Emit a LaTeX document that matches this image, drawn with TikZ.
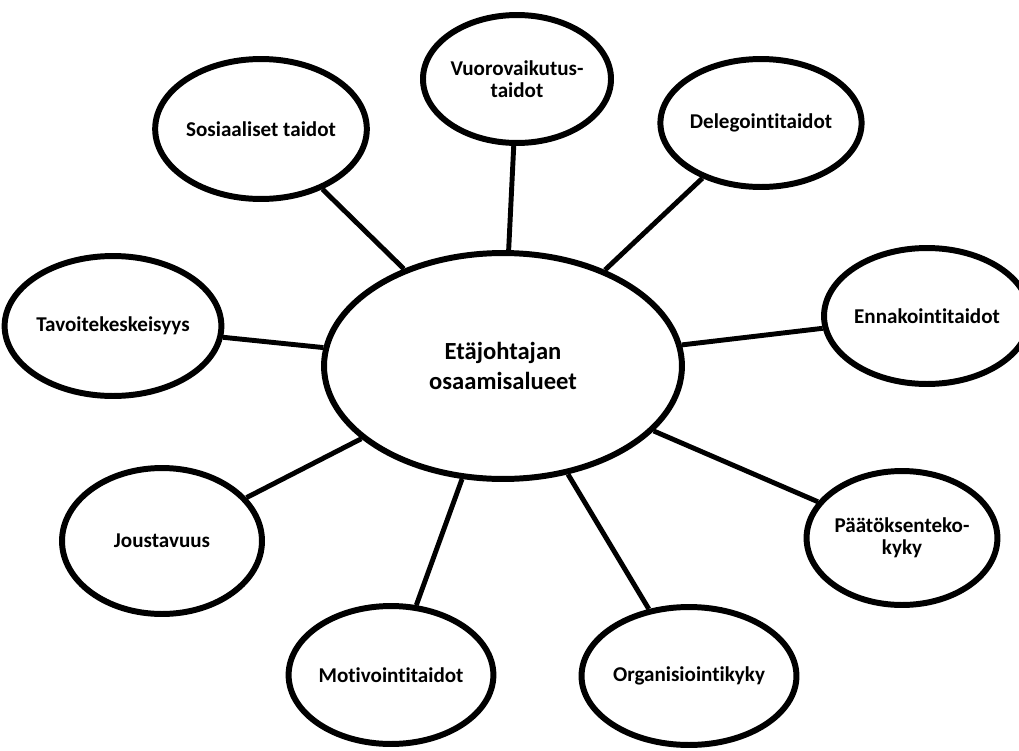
\documentclass[tikz,border=0pt]{standalone}
\usepackage{fontspec}
\setmainfont{Carlito}[RawFeature={-liga;-clig;-dlig}]
\usepackage{tikz}
\usetikzlibrary{shapes.geometric}
\tikzset{
  hub/.style={ellipse,draw=black,line width=3.4pt,inner sep=0pt,align=center,
              font=\fontsize{14}{17.5}\selectfont\bfseries},
  area/.style={ellipse,draw=black,line width=3.4pt,inner sep=0pt,align=center,
               font=\fontsize{12}{12.4}\selectfont\bfseries},
  link/.style={line width=2.8pt},
}
\begin{document}
\begin{tikzpicture}[x=0.02cm,y=-0.02cm]
  \useasboundingbox (0,0) rectangle (1019,751);
  \node[hub,minimum width=7.16cm,minimum height=4.52cm] (hub) at (503,366) {Etäjohtajan\\osaamisalueet};
  \node[area,minimum width=3.88cm,minimum height=2.80cm] (soc) at (261,129) {Sosiaaliset taidot};
  \node[area,minimum width=3.28cm,minimum height=2.56cm] (vuo) at (517,79) {Vuorovaikutus-\\taidot};
  \node[area,minimum width=3.32cm,minimum height=2.56cm] (del) at (761,123) {Delegointitaidot};
  \node[area,minimum width=3.88cm,minimum height=2.80cm] (tav) at (113,326) {Tavoitekeskeisyys};
  \node[area,minimum width=3.44cm,minimum height=2.72cm] (enn) at (927,316) {Ennakointitaidot};
  \node[area,minimum width=4.00cm,minimum height=2.92cm] (jou) at (162,541) {Joustavuus};
  \node[area,minimum width=3.60cm,minimum height=2.76cm] (mot) at (391,675) {Motivointitaidot};
  \node[area,minimum width=3.76cm,minimum height=2.68cm] (paa) at (902,538) {Päätöksenteko-\\kyky};
  \node[area,minimum width=3.64cm,minimum height=2.76cm] (org) at (689,676) {Organisiointikyky};
  \draw[link] (soc) -- (hub);
  \draw[link] (vuo) -- (hub);
  \draw[link] (del) -- (hub);
  \draw[link] (tav) -- (hub);
  \draw[link] (enn) -- (hub);
  \draw[link] (jou) -- (hub);
  \draw[link] (mot) -- (hub);
  \draw[link] (paa) -- (hub);
  \draw[link] (org) -- (hub);
\end{tikzpicture}
\end{document}
